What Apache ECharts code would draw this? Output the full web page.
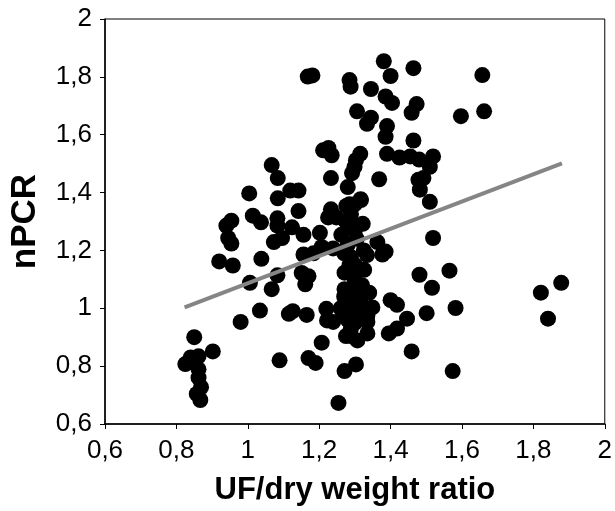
<!DOCTYPE html>
<html>
<head>
    <title>nPCR vs UF/dry weight ratio</title>
    <meta charset="utf-8">
    <style>
        html, body { margin: 0; padding: 0; background: #fff; }
        #main { width: 615px; height: 511px; }
    </style>
</head>
<body>
    <div id="main"></div>
    <script type="text/javascript" src="https://cdn.jsdelivr.net/npm/echarts@6/dist/echarts.min.js"></script>
    <script type="text/javascript">
    // values
    var ufRatio = [
        0.825, 0.84, 0.862, 0.862, 0.862, 0.869, 0.857, 0.867, 0.85, 0.902,
        1.381, 1.464, 1.40, 1.168, 1.181, 1.657, 1.285, 1.288, 1.345, 1.386,
        1.404, 1.473, 1.459, 1.306, 1.345, 1.334, 1.597, 1.662, 1.39, 1.386,
        1.464, 1.211, 1.226, 1.235, 1.39, 1.425, 1.455, 1.48, 1.519, 1.51,
        1.315, 1.303, 1.299, 1.292, 1.067, 1.084, 1.233, 1.368, 1.478, 1.492,
        1.482, 1.28, 1.004, 1.119, 1.142, 1.084, 1.51, 1.317, 1.276, 1.299,
        1.142, 1.233, 1.225, 1.248, 1.014, 1.037, 1.083, 0.954, 0.94, 1.083,
        1.124, 1.156, 1.202, 1.322, 1.289, 1.299, 1.262, 0.945, 0.954, 1.073,
        1.096, 1.363, 1.386, 1.377, 1.519, 1.156, 1.184, 1.207, 1.239, 1.334,
        0.92, 1.038, 0.958, 1.151, 1.17, 1.083, 1.161, 1.006, 1.067, 1.326,
        1.481, 1.565, 1.516, 1.878, 1.821, 1.841, 1.40, 1.418, 1.34, 1.349,
        1.582, 1.501, 1.446, 1.418, 1.395, 1.459, 1.574, 1.034, 1.115, 1.126,
        1.165, 0.98, 1.22, 1.222, 1.239, 1.089, 1.17, 1.19, 1.207, 1.271,
        1.303, 1.254, 1.335, 1.289, 1.275,
        1.285, 1.316, 1.271, 1.289, 1.271, 1.299, 1.28, 1.316, 1.267, 1.299,
        1.335, 1.289, 1.335, 1.307, 1.28, 1.30, 1.27, 1.29, 1.31, 1.26, 1.30,
        1.275, 1.305, 1.285, 1.32, 1.27, 1.30, 1.325, 1.28
    ];
    var npcr = [
        0.807, 0.83, 0.834, 0.789, 0.76, 0.727, 0.704, 0.683, 0.90, 0.851,
        1.854, 1.830, 1.803, 1.801, 1.805, 1.806, 1.789, 1.766, 1.758, 1.732,
        1.71, 1.706, 1.676, 1.681, 1.659, 1.638, 1.664, 1.681, 1.63, 1.593,
        1.58, 1.546, 1.554, 1.529, 1.534, 1.521, 1.525, 1.514, 1.525, 1.489,
        1.534, 1.512, 1.489, 1.467, 1.495, 1.45, 1.45, 1.446, 1.444, 1.45,
        1.41, 1.419, 1.397, 1.407, 1.407, 1.38, 1.368, 1.374, 1.354, 1.359,
        1.336, 1.342, 1.314, 1.314, 1.32, 1.297, 1.311, 1.303, 1.286, 1.286,
        1.28, 1.254, 1.261, 1.292, 1.325, 1.286, 1.254, 1.243, 1.224, 1.229,
        1.243, 1.229, 1.196, 1.186, 1.243, 1.186, 1.19, 1.212, 1.207, 1.184,
        1.162, 1.171, 1.148, 1.122, 1.111, 1.114, 1.083, 1.088, 1.066, 1.133,
        1.116, 1.13, 1.071, 1.088, 1.054, 0.964, 1.028, 1.012, 1.054, 1.003,
        1.001, 0.983, 0.964, 0.93, 0.913, 0.851, 0.783, 0.992, 0.981, 0.99,
        0.977, 0.953, 0.998, 0.958, 0.953, 0.82, 0.828, 0.811, 0.881, 0.783,
        0.806, 0.673, 0.913, 0.904, 0.904,
        1.36, 1.377, 1.123, 1.177, 1.066, 1.10, 1.021, 1.032, 0.974, 0.981,
        0.974, 0.93, 0.953, 0.889, 1.22, 1.15, 1.19, 1.05, 1.00, 1.00, 0.95,
        1.30, 1.24, 1.15, 1.08, 1.04, 1.27, 1.20, 0.96
    ];
    // regression line end points
    var trendX = [0.823, 1.880];
    var trendY = [1.003, 1.501];

    var points = ufRatio.map(function (x, i) { return [x, npcr[i]]; });
    var trend = trendX.map(function (x, i) { return [x, trendY[i]]; });

    var fmt = function (v) {
        return String(Math.round(v * 10) / 10).replace('.', ',');
    };
    var font = "'Liberation Sans', Arial, Helvetica, sans-serif";

    var myChart = echarts.init(document.getElementById('main'));
    var option = {
        animation: false,
        grid: {
            left: 103,
            right: 4,
            top: 19,
            bottom: 79,
            show: true,
            borderColor: '#000',
            borderWidth: 1
        },
        xAxis: {
            type: 'value',
            min: 0.6,
            max: 2,
            interval: 0.2,
            name: 'UF/dry weight ratio',
            nameLocation: 'middle',
            nameGap: 51,
            nameTextStyle: { fontFamily: font, fontSize: 31, fontWeight: 'bold', color: '#000' },
            axisLine: { lineStyle: { color: '#000', width: 1.5 } },
            axisTick: { show: true, length: 5, lineStyle: { color: '#000' } },
            axisLabel: { formatter: fmt, fontFamily: font, fontSize: 26, color: '#000', margin: 14 },
            splitLine: { show: false }
        },
        yAxis: {
            type: 'value',
            min: 0.6,
            max: 2,
            interval: 0.2,
            name: 'nPCR',
            nameLocation: 'middle',
            nameGap: 62,
            nameTextStyle: { fontFamily: font, fontSize: 35, fontWeight: 'bold', color: '#000' },
            axisLine: { lineStyle: { color: '#000', width: 1.5 } },
            axisTick: { show: true, length: 5, lineStyle: { color: '#000' } },
            axisLabel: { formatter: fmt, fontFamily: font, fontSize: 26, color: '#000', margin: 13 },
            splitLine: { show: false }
        },
        series: [
            {
                type: 'scatter',
                data: points,
                symbolSize: 16,
                itemStyle: { color: '#000', opacity: 1 },
                z: 2
            },
            {
                type: 'line',
                data: trend,
                showSymbol: false,
                lineStyle: { color: '#858585', width: 4 },
                z: 3
            }
        ]
    };
    myChart.setOption(option);
    </script>
</body>
</html>
